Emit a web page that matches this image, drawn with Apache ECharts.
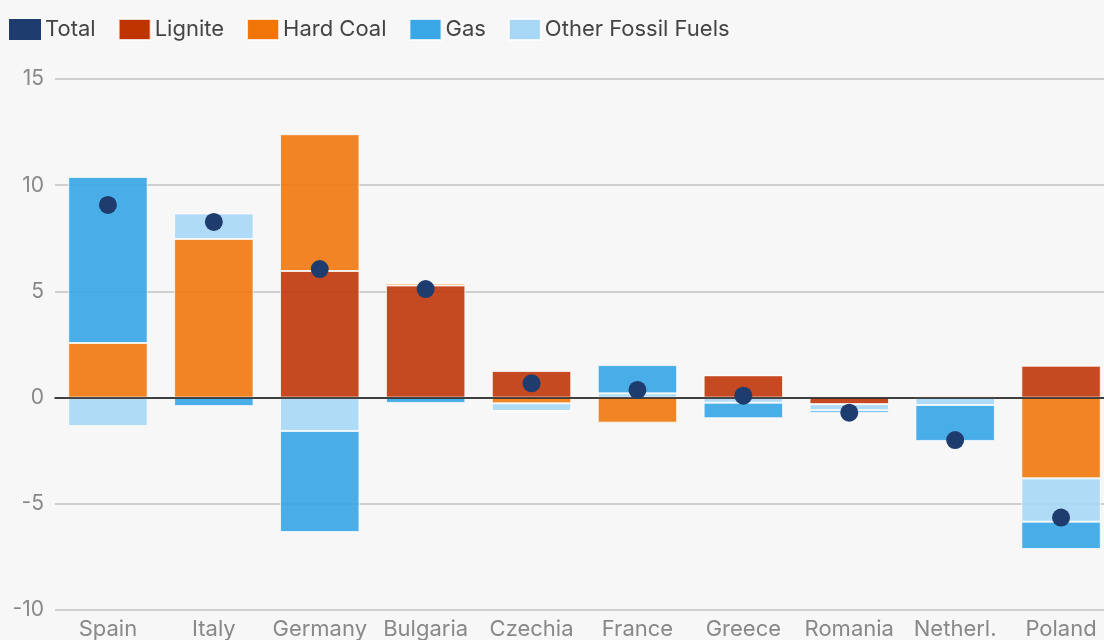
<!DOCTYPE html>
<html>
<head>
<meta charset="utf-8">
<script src="https://cdn.jsdelivr.net/npm/echarts@6/dist/echarts.min.js"></script>
<style>
html,body{margin:0;padding:0;background:#f7f7f7;}
#c{width:1104px;height:640px;}
</style>
</head>
<body>
<div id="c"></div>
<script>
const categories = ['Spain','Italy','Germany','Bulgaria','Czechia','France','Greece','Romania','Netherl.','Poland'];
const lignite   = [0, 0, 5.96, 5.28, 1.25, 0, 1.05, -0.31, 0, 1.5];
const hardCoal  = [2.57, 7.47, 6.44, 0.1, -0.27, -1.18, 0, 0, 0.07, -3.8];
const otherFuel = [-1.34, 1.2, -1.57, 0, -0.36, 0.2, -0.24, -0.28, -0.35, -2.04];
const gas       = [7.82, -0.4, -4.76, -0.25, 0, 1.33, -0.73, -0.12, -1.69, -1.29];
const total     = [9.07, 8.27, 6.05, 5.11, 0.67, 0.36, 0.09, -0.71, -2.0, -5.65];
const yTicks = {min: -10, max: 15, interval: 5};

const chart = echarts.init(document.getElementById('c'));
const barStyle = (color) => ({color: color, opacity: 0.92, borderColor: 'rgba(255,255,255,0.8)', borderWidth: 1});
const barSeries = (name, data, color) => ({
  name, type: 'bar', stack: 'all', data, barWidth: '75%',
  itemStyle: barStyle(color), emphasis: {disabled: true}
});
chart.setOption({
  backgroundColor: '#f7f7f7',
  animation: false,
  textStyle: {fontFamily: 'Inter'},
  legend: {
    left: 4, top: 13,
    itemWidth: 32, itemHeight: 21, itemGap: 22,
    textStyle: {fontSize: 22, color: '#444', fontFamily: 'Inter', padding: [0,0,0,-1]},
    data: [
      {name: 'Total', icon: 'rect', itemStyle: {color: '#1e3d6e', opacity: 1}},
      {name: 'Lignite', icon: 'rect', itemStyle: {color: '#bf3300', opacity: 1}},
      {name: 'Hard Coal', icon: 'rect', itemStyle: {color: '#f07408', opacity: 1}},
      {name: 'Gas', icon: 'rect', itemStyle: {color: '#39a6e6', opacity: 1}},
      {name: 'Other Fossil Fuels', icon: 'rect', itemStyle: {color: '#a6d8f5', opacity: 1}}
    ]
  },
  grid: {left: 55, right: -10, top: 79, bottom: 30, containLabel: false, outerBoundsMode: 'none'},
  xAxis: {
    type: 'category', data: categories,
    axisLine: {onZero: true, lineStyle: {color: '#111', width: 1.5}},
    axisTick: {show: false},
    axisLabel: {fontSize: 22, color: '#888', margin: 8, interval: 0, hideOverlap: false, fontFamily: 'Inter'},
    z: 10
  },
  yAxis: {
    type: 'value', min: yTicks.min, max: yTicks.max, interval: yTicks.interval,
    axisLine: {show: false}, axisTick: {show: false},
    axisLabel: {fontSize: 21, color: '#888', margin: 11, fontFamily: 'Inter'},
    splitLine: {lineStyle: {color: '#cfcfcf', width: 2}}
  },
  series: [
    barSeries('Lignite', lignite, '#c03a0e'),
    barSeries('Hard Coal', hardCoal, '#f07a12'),
    barSeries('Other Fossil Fuels', otherFuel, '#a9d8f5'),
    barSeries('Gas', gas, '#3aa6e6'),
    {
      name: 'Total', type: 'scatter', data: total, symbol: 'circle', symbolSize: 18,
      itemStyle: {color: '#1e3d6e', opacity: 1}, z: 20, emphasis: {disabled: true}
    }
  ]
});
</script>
</body>
</html>
